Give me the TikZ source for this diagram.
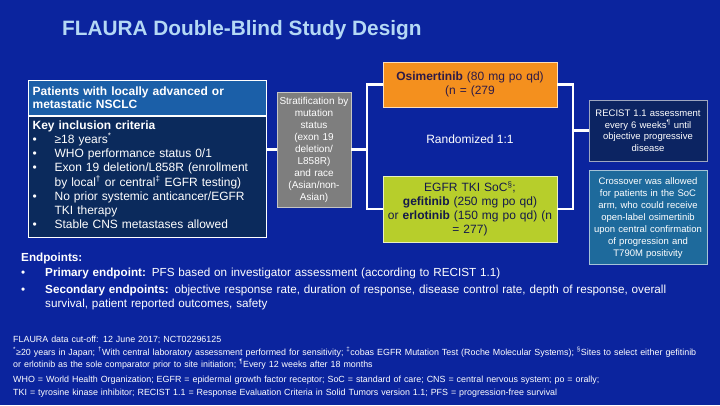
\documentclass[tikz,border=0pt]{standalone}
\usepackage{xcolor}
\usepackage{fontspec}
\setmainfont{Liberation Sans}
\usepackage{tikz}
\usetikzlibrary{positioning}
\definecolor{slidebg}{HTML}{0B249E}
\definecolor{titleblue}{HTML}{B4D8F5}
\definecolor{hdrblue}{HTML}{1B5FA8}
\definecolor{critnavy}{HTML}{0B2A5C}
\definecolor{stratgray}{HTML}{7E7E7E}
\definecolor{osiorange}{HTML}{F4901E}
\definecolor{ositext}{HTML}{2E1A47}
\definecolor{socgreen}{HTML}{B7CE2B}
\definecolor{soctext}{HTML}{141A4A}
\definecolor{recnavy}{HTML}{0C2462}
\definecolor{crossteal}{HTML}{1E6A9C}
\tikzset{
  slidetitle/.style={
    text=titleblue, font=\fontsize{20.8}{24}\selectfont\bfseries, inner sep=0pt},
  hdrbox/.style={
    draw=white, line width=1.2pt, fill=hdrblue, text=white,
    minimum width=238pt, minimum height=35pt, text width=230pt, inner sep=4pt,
    align=left, font=\fontsize{12}{13}\selectfont\bfseries},
  critbox/.style={
    hdrbox, fill=critnavy, minimum height=120pt,
    font=\fontsize{12}{14.3}\selectfont},
  stratbox/.style={
    draw=white!55!stratgray, line width=0.8pt, fill=stratgray, text=white,
    minimum width=74pt, minimum height=115pt, text width=72pt, inner sep=1pt,
    align=center, font=\fontsize{10}{12}\selectfont},
  armbox/.style={
    draw=white!70!osiorange, line width=0.8pt, fill=osiorange, text=ositext,
    minimum width=174pt, minimum height=45pt, text width=170pt, inner sep=2pt,
    align=center, font=\fontsize{12}{14}\selectfont},
  armbox_soc/.style={
    armbox, draw=white!70!socgreen, fill=socgreen, text=soctext, minimum height=66pt},
  sidebox/.style={
    draw=white!60!recnavy, line width=0.8pt, fill=recnavy, text=white,
    minimum width=118pt, minimum height=61pt, text width=114pt, inner sep=2pt,
    align=center, font=\fontsize{9.5}{11.5}\selectfont},
  sidebox_cross/.style={
    sidebox, draw=white!60!crossteal, fill=crossteal, minimum height=94pt,
    font=\fontsize{9.5}{12}\selectfont},
  randlabel/.style={text=white, font=\fontsize{12}{14}\selectfont},
  endtext/.style={
    text=white, align=left, text width=690pt, inner sep=0pt,
    font=\fontsize{11.7}{14}\selectfont},
  foottext/.style={
    text=white, align=left, text width=705pt, inner sep=0pt,
    font=\fontsize{8.9}{12.4}\selectfont},
  link/.style={draw=white, line width=2.6pt},
}

\begin{document}
\begin{tikzpicture}[x=1pt, y=-1pt, node distance=9pt]
  \fill[slidebg] (0,0) rectangle (720,405);
  \useasboundingbox (0,0) rectangle (720,405);
  \node[slidetitle, anchor=west] (title) at (62,30) {FLAURA Double-Blind Study Design};
  \node[hdrbox, anchor=north west] (hdr) at (28,80) {Patients with locally advanced or\\metastatic NSCLC};
  \node[critbox, below=0pt of hdr] (crit) {\textbf{Key inclusion criteria}\\
    \begin{tabular}{@{}p{22pt}@{}l@{}}
      \textbullet & ≥18 years\textsuperscript{*}\\
      \textbullet & WHO performance status 0/1\\
      \textbullet & Exon 19 deletion/L858R (enrollment\\
                  & by local\textsuperscript{†} or central\textsuperscript{‡} EGFR testing)\\
      \textbullet & No prior systemic anticancer/EGFR\\
                  & TKI therapy\\
      \textbullet & Stable CNS metastases allowed
    \end{tabular}};
  \node[stratbox] (strat) at (314,149.5) {Stratification by\\mutation\\status\\(exon 19\\deletion/\\L858R)\\and race\\(Asian/non-\\Asian)};
  \node[armbox] (osi) at (470,84.5) {\textbf{Osimertinib} (80 mg po qd)\\(n = (279};
  \node[randlabel] (rand) at (470,139) {Randomized 1:1};
  \node[armbox_soc] (soc) at (470,209) {EGFR TKI SoC\textsuperscript{§};\\\textbf{gefitinib} (250 mg po qd)\\or \textbf{erlotinib} (150 mg po qd) (n\\= 277)};
  \node[sidebox] (recist) at (648,130.5) {RECIST 1.1 assessment\\every 6 weeks\textsuperscript{¶} until\\objective progressive\\disease};
  \node[sidebox_cross, below=of recist] (cross) {Crossover was allowed\\for patients in the SoC\\arm, who could receive\\open-label osimertinib\\upon central confirmation\\of progression and\\T790M positivity};
  \coordinate (split) at (367,149.5);
  \coordinate (merge) at (573,130.5);
  \draw[link] (strat.west) -- (strat.west -| crit.east);
  \draw[link] (strat.east) -- (split);
  \draw[link] (osi.west) -| (split) |- (soc.west);
  \draw[link] (osi.east) -| (merge) |- (soc.east);
  \draw[link] (merge) -- (recist.west);
  \node[endtext, anchor=north west] (endp) at (21,253) {\textbf{Endpoints:}\\[2pt]
    \begin{tabular}{@{}p{24pt}@{}l@{}}
      \textbullet & \textbf{Primary endpoint:} PFS based on investigator assessment (according to RECIST 1.1)\\[3pt]
      \textbullet & \textbf{Secondary endpoints:} objective response rate, duration of response, disease control rate, depth of response, overall\\
                  & survival, patient reported outcomes, safety
    \end{tabular}};
  \node[foottext, anchor=north west] (foot) at (13,336) {FLAURA data cut-off: 12 June 2017; NCT02296125\\
    \textsuperscript{*}≥20 years in Japan; \textsuperscript{†}With central laboratory assessment performed for sensitivity; \textsuperscript{‡}cobas EGFR Mutation Test (Roche Molecular Systems); \textsuperscript{§}Sites to select either gefitinib\\
    or erlotinib as the sole comparator prior to site initiation; \textsuperscript{¶}Every 12 weeks after 18 months\\[3pt]
    WHO = World Health Organization; EGFR = epidermal growth factor receptor; SoC = standard of care; CNS = central nervous system; po = orally;\\
    TKI = tyrosine kinase inhibitor; RECIST 1.1 = Response Evaluation Criteria in Solid Tumors version 1.1; PFS = progression-free survival};
\end{tikzpicture}
\end{document}
